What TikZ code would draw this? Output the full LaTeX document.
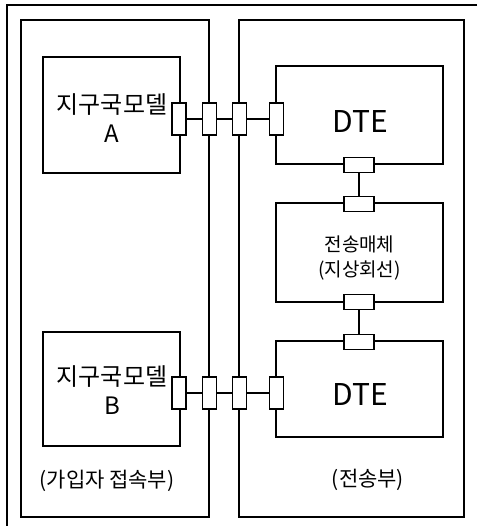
\documentclass[tikz,border=0pt]{standalone}
\usepackage{fontspec}
\setmainfont{Noto Sans CJK KR}
\begin{document}
\begin{tikzpicture}[x=1pt,y=-1pt,
  ln/.style={line width=1.2pt},
  box/.style={ln,draw,rectangle,inner sep=0pt},
  hport/.style={box,fill=white,minimum width=14pt,minimum height=32pt},
  vport/.style={box,fill=white,minimum width=30pt,minimum height=15pt},
  big/.style={font=\fontsize{30}{34}\selectfont},
  mid/.style={font=\fontsize{24}{29}\selectfont,align=center},
  sml/.style={font=\fontsize{19}{25}\selectfont,align=center},
  lbl/.style={font=\fontsize{21}{25}\selectfont}]
\useasboundingbox (0,0) rectangle (477,526);
\draw[ln] (477,5) -- (7,5) -- (7,526);
% panels
\node[box,minimum width=188pt,minimum height=497pt] (lp) at (115,268.5) {};
\node[box,minimum width=225pt,minimum height=497pt] (rp) at (351.5,268.5) {};
% boxes
\node[box,minimum width=137pt,minimum height=116pt] (ma) at (111.5,115) {};
\node[box,minimum width=137pt,minimum height=114pt] (mb) at (111.5,389) {};
\node[box,minimum width=167pt,minimum height=98pt] (d1) at (359.5,115) {};
\node[box,minimum width=167pt,minimum height=99pt] (md) at (359.5,252.5) {};
\node[box,minimum width=167pt,minimum height=96pt] (d2) at (359.5,389) {};
% texts
\node[mid] (tA) at (112,118) {지구국모델\\A};
\node[mid] (tB) at (112,390) {지구국모델\\B};
\node[big] (tD1) at (360,122) {DTE};
\node[big] (tD2) at (360,395) {DTE};
\node[sml] (tM) at (359.5,258) {전송매체\\(지상회선)};
\node[lbl] (tL) at (107,481) {(가입자 접속부)};
\node[lbl] (tR) at (368,480) {(전송부)};
% ports row A
\node[hport] (a1) at (179,119) {};
\node[hport] (a2) at (209.5,119) {};
\node[hport] (a3) at (239.5,119) {};
\node[hport] (a4) at (276.5,119) {};
\draw[ln] (a1) -- (a2) (a2) -- (a3) (a3) -- (a4);
% ports row B
\node[hport] (b1) at (179,393) {};
\node[hport] (b2) at (209.5,393) {};
\node[hport] (b3) at (239.5,393) {};
\node[hport] (b4) at (276.5,393) {};
\draw[ln] (b1) -- (b2) (b2) -- (b3) (b3) -- (b4);
% vertical ports
\node[vport] (v1) at (359,165) {};
\node[vport] (v2) at (359,204) {};
\node[vport] (v3) at (359,302) {};
\node[vport] (v4) at (359,342) {};
\draw[ln] (v1) -- (v2) (v3) -- (v4);
\end{tikzpicture}
\end{document}
